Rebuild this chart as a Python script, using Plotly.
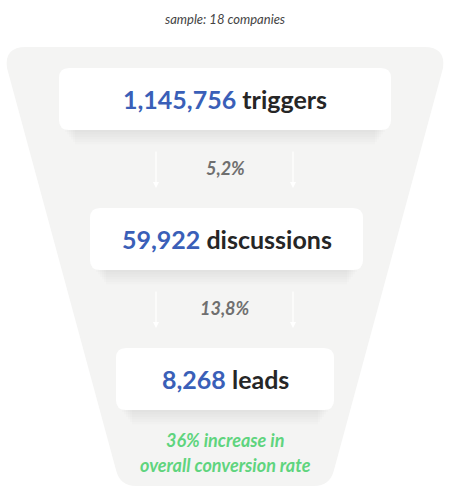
import plotly.graph_objects as go

stage_values = ["1,145,756", "59,922", "8,268"]
stage_labels = ["triggers", "discussions", "leads"]
step_rates = ["5,2%", "13,8%"]
subtitle = "sample: 18 companies"
footer = ["36% increase in", "overall conversion rate"]

BLUE = "#3a5fb8"
DARK = "#262626"
GRAY = "#6f6f6f"
GREEN = "#5fd47e"
FONT = "Lato, Noto Sans, sans-serif"

fig = go.Figure()
shapes = []
ann = []

path = ("M 26 47 L 424 47 Q 446 47 443 68 L 334 470 Q 330 486 314 486 "
        "L 136 486 Q 120 486 116 470 L 7 68 Q 4 47 26 47 Z")
shapes.append(dict(type="path", path=path, fillcolor="#f4f4f3", line=dict(width=0), layer="below"))

boxes = [(59, 391, 68, 130), (90, 363, 208, 270), (116, 334, 348, 410)]
for i, (x0, x1, y0, y1) in enumerate(boxes):
    for k in range(6):
        d = 2 + k * 2.5
        shapes.append(dict(type="rect", x0=x0 + 6 + k * 2, x1=x1 - 6 - k * 2, y0=y0 + d, y1=y1 + d,
                           fillcolor="rgba(0,0,0,0.012)", line=dict(width=0)))
    r = 10
    p = (f"M {x0+r} {y0} L {x1-r} {y0} Q {x1} {y0} {x1} {y0+r} L {x1} {y1-r} Q {x1} {y1} {x1-r} {y1} "
         f"L {x0+r} {y1} Q {x0} {y1} {x0} {y1-r} L {x0} {y0+r} Q {x0} {y0} {x0+r} {y0} Z")
    shapes.append(dict(type="path", path=p, fillcolor="white", line=dict(width=0)))
    ann.append(dict(x=(x0 + x1) / 2, y=(y0 + y1) / 2, showarrow=False,
                    text=f"<b><span style='color:{BLUE}'>{stage_values[i]}</span> {stage_labels[i]}</b>",
                    font=dict(family=FONT, size=25, color=DARK)))

for i, rate in enumerate(step_rates):
    yt = 150 + i * 140
    yb = yt + 38
    for xa in (156, 293):
        ann.append(dict(x=xa, y=yb, ax=xa, ay=yt, xref="x", yref="y", axref="x", ayref="y",
                        showarrow=True, arrowhead=2, arrowsize=1, arrowwidth=1.2, arrowcolor="white", text=""))
    ann.append(dict(x=225, y=yt + 18, showarrow=False,
                    text=f"<b><i>{rate}</i></b>", font=dict(family=FONT, size=18, color=GRAY)))

ann.append(dict(x=225, y=19, showarrow=False, text=f"<i>{subtitle}</i>",
                font=dict(family=FONT, size=13, color="#444")))
for j, line in enumerate(footer):
    ann.append(dict(x=225, y=440 + j * 25, showarrow=False, text=f"<b><i>{line}</i></b>",
                    font=dict(family=FONT, size=18, color=GREEN)))

fig.update_layout(width=450, height=500, margin=dict(l=0, r=0, t=0, b=0),
                  paper_bgcolor="white", plot_bgcolor="white", shapes=shapes, annotations=ann,
                  xaxis=dict(range=[0, 450], visible=False, fixedrange=True),
                  yaxis=dict(range=[500, 0], visible=False, fixedrange=True),
                  showlegend=False)
fig.write_html("out.html", config={"displayModeBar": False})

with open("out.html", encoding="utf-8") as f:
    html = f.read()
html = html.replace("<head>", "<head><style>html,body{margin:0;padding:0;overflow:hidden}</style>", 1)
with open("out.html", "w", encoding="utf-8") as f:
    f.write(html)
